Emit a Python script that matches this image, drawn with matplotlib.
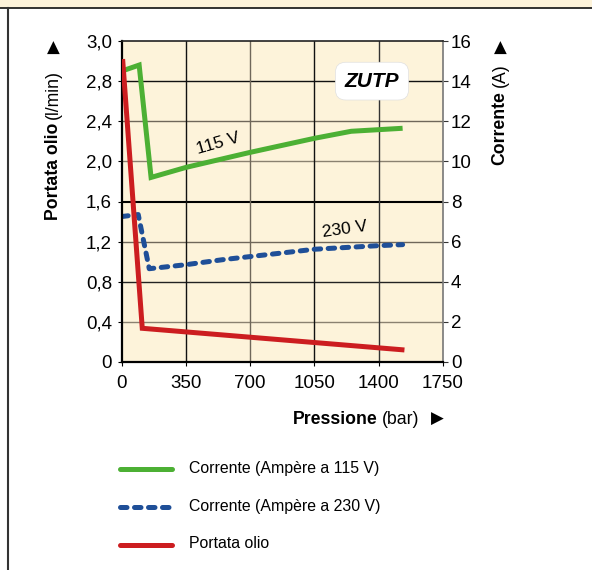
import matplotlib
matplotlib.use('Agg')
import matplotlib.pyplot as plt
from matplotlib.lines import Line2D
from matplotlib.patches import Rectangle

# ---------------- data ----------------
p_115 = [0, 95, 160, 350, 700, 1050, 1250, 1530]
i_115 = [14.5, 14.8, 9.2, 9.7, 10.45, 11.15, 11.5, 11.65]

p_230 = [0, 90, 150, 350, 550, 860, 1050, 1400, 1530]
i_230 = [7.25, 7.35, 4.65, 4.85, 5.1, 5.42, 5.62, 5.8, 5.85]

p_oil = [5, 112, 1540]
q_oil = [3.02, 0.336, 0.12]

x_ticks = [0, 350, 700, 1050, 1400, 1750]
flow_ticks = [0, 0.4, 0.8, 1.2, 1.6, 2.0, 2.4, 2.8, 3.2]
flow_labels = ["0", "0,4", "0,8", "1,2", "1,6", "2,0", "2,4", "2,8", "3,0"]
curr_ticks = [0, 2, 4, 6, 8, 10, 12, 14, 16]

legend_labels = ["Corrente (Ampère a 115 V)", "Corrente (Ampère a 230 V)", "Portata olio"]

# ---------------- style ----------------
CREAM = '#fdf3da'
GREEN = '#4cb034'
BLUE = '#1f4f98'
RED = '#cc1d20'
LAB = ['Liberation Sans', 'DejaVu Sans']
DASH = (0, (1.3, 1.5))

plt.rcParams['font.family'] = ['Liberation Sans', 'DejaVu Sans']

W, H = 592, 570
fig = plt.figure(figsize=(W / 100, H / 100), dpi=100)


def fx(x):
    return x / W


def fy(y):
    return 1 - y / H


L, R, T, B = 121.7, 443.0, 41.0, 362.0
ax2 = fig.add_axes([fx(L), fy(B), (R - L) / W, (B - T) / H])  # current (A)
ax = ax2.twinx()  # flow axis (l/min)

ax2.set_zorder(1)
ax.set_zorder(2)
ax2.patch.set_visible(True)
ax2.patch.set_facecolor(CREAM)
ax.patch.set_visible(False)

ax2.set_xlim(0, 1750)
ax2.set_ylim(0, 16)
ax.set_ylim(0, 3.2)

# grid
h_colors = {2: '#8a8170', 4: '#222222', 6: '#6f675a', 8: '#000000',
            10: '#8a8170', 12: '#6f675a', 14: '#111111'}
for v, c in h_colors.items():
    ax2.axhline(v, color=c, lw=1.5 if v == 8 else 1.0, zorder=0.5)
v_colors = {350: '#111111', 700: '#6f675a', 1050: '#111111', 1400: '#333333'}
for v, c in v_colors.items():
    ax2.axvline(v, color=c, lw=1.0, zorder=0.5)

# curves
ax2.plot(p_115, i_115, color=GREEN, lw=3.6, solid_joinstyle='miter',
         solid_capstyle='butt', zorder=3)
ax2.plot(p_230, i_230, color=BLUE, lw=3.6, linestyle=DASH,
         dash_capstyle='round', zorder=3)
ax.plot(p_oil, q_oil, color=RED, lw=3.6, solid_joinstyle='miter',
        solid_capstyle='butt', zorder=3)

# in-chart labels
ax2.text(525, 10.9, "115 V", rotation=16, ha='center', va='center',
         fontsize=12.5, rotation_mode='anchor', zorder=4)
ax2.text(1217, 6.6, "230 V", rotation=8, ha='center', va='center',
         fontsize=12.5, rotation_mode='anchor', zorder=4)
ax2.text(0.779, 0.875, "ZUTP", transform=ax2.transAxes, ha='center', va='center',
         fontsize=15, fontweight='bold', fontstyle='italic', zorder=5,
         bbox=dict(boxstyle='round,pad=0.45,rounding_size=0.5', fc='white',
                   ec='#e0e0e0', lw=0.5))

# ticks
ax2.set_xticks(x_ticks)
ax2.set_xticklabels([str(v) for v in x_ticks], fontsize=13.5)
ax2.set_yticks(curr_ticks)
ax2.set_yticklabels([str(v) for v in curr_ticks], fontsize=13.5)
ax2.yaxis.tick_right()
ax2.tick_params(axis='y', which='both', left=False, right=True, labelleft=False,
                labelright=True, length=3.6, width=0.8, pad=2, color='#333333')
ax2.tick_params(axis='x', length=3, width=0.8, pad=6)

ax.set_yticks(flow_ticks)
ax.set_yticklabels(flow_labels, fontsize=13.5)
ax.yaxis.tick_left()
ax.tick_params(axis='y', left=True, right=False, labelleft=True, labelright=False,
               length=3, width=0.8, pad=4)

# spines
for a in (ax, ax2):
    for s in a.spines.values():
        s.set_visible(False)
ax.spines['left'].set_visible(True)
ax.spines['left'].set_linewidth(1.6)
ax.spines['bottom'].set_visible(True)
ax.spines['bottom'].set_linewidth(1.6)
ax.spines['top'].set_visible(True)
ax.spines['top'].set_linewidth(1.2)
ax.spines['top'].set_color('#222222')
ax2.spines['right'].set_visible(True)
ax2.spines['right'].set_linewidth(1.2)
ax2.spines['right'].set_color('#777777')

# frame decorations
fig.add_artist(Rectangle((0, fy(7.5)), 1, 7.5 / H, transform=fig.transFigure,
                         facecolor=CREAM, edgecolor='none'))
fig.add_artist(Line2D([0, 1], [fy(7.5), fy(7.5)], transform=fig.transFigure,
                      color='#222222', lw=1.3))
fig.add_artist(Line2D([fx(7.5), fx(7.5)], [fy(7.5), 0], transform=fig.transFigure,
                      color='#333333', lw=1.5))

# axis titles (bold + regular pieces)
fig.canvas.draw()
renderer = fig.canvas.get_renderer()
TS = 12.7


def vertical_label(x, y0, bold, regular, arrow_y):
    t1 = fig.text(fx(x), fy(y0), bold, rotation=90, rotation_mode='anchor',
                  ha='left', va='center', fontsize=TS, fontweight='bold', family=LAB)
    bb = t1.get_window_extent(renderer)
    top_px = H - bb.y1
    fig.text(fx(x), fy(top_px - 4), regular, rotation=90, rotation_mode='anchor',
             ha='left', va='center', fontsize=TS, family=LAB)
    fig.text(fx(x), fy(arrow_y), "▲", ha='center', va='center', fontsize=12,
             family=['DejaVu Sans'])


vertical_label(53, 220, "Portata olio", "(l/min)", 48)
vertical_label(500, 165, "Corrente", "(A)", 48)

t1 = fig.text(fx(293), fy(420), "Pressione", ha='left', va='center', fontsize=TS,
              fontweight='bold', family=LAB)
bb = t1.get_window_extent(renderer)
fig.text(fx(bb.x1 + 4), fy(420), "(bar)", ha='left', va='center', fontsize=TS, family=LAB)
fig.text(fx(437), fy(419), "▶", ha='center', va='center', fontsize=12, family=['DejaVu Sans'])

# legend (manual)
legend_styles = [dict(color=GREEN, ls='-', solid_capstyle='round'),
                 dict(color=BLUE, ls=DASH, dash_capstyle='round'),
                 dict(color=RED, ls='-', solid_capstyle='round')]
rows = [469, 507, 545]
for lab, st, ry in zip(legend_labels, legend_styles, rows):
    fig.add_artist(Line2D([fx(120), fx(172)], [fy(ry), fy(ry)], transform=fig.transFigure,
                          lw=3.6, **st))
    fig.text(fx(189), fy(ry - 1), lab, ha='left', va='center', fontsize=11.4, family=LAB)

fig.savefig('out.png', dpi=100, facecolor='white')
